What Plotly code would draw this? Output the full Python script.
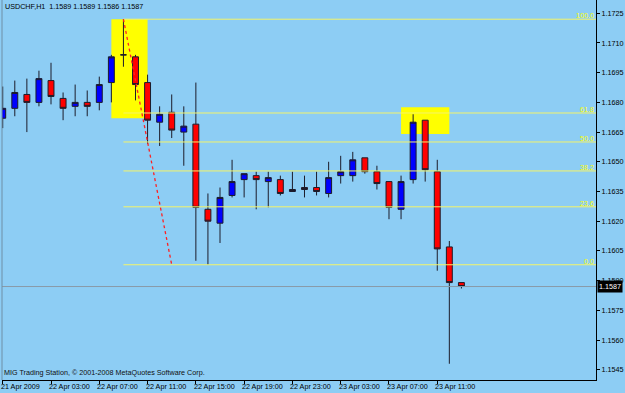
import plotly.graph_objects as go
import pandas as pd

# ---------------- data ----------------
times = pd.date_range("2009-04-21 23:00", periods=39, freq="h")
opens = [1.1672, 1.1677, 1.1684, 1.1680, 1.1691, 1.1682, 1.1678, 1.1680, 1.1680, 1.1690,
         1.1704, 1.1703, 1.1690, 1.1670, 1.1675, 1.1665, 1.1669, 1.1626, 1.1619, 1.1633,
         1.1641, 1.1643, 1.1640, 1.1641, 1.1635, 1.1637, 1.1637, 1.1634, 1.1643, 1.1643,
         1.1652, 1.1645, 1.1640, 1.1626, 1.1641, 1.1671, 1.1645, 1.1607, 1.1589]
highs = [1.1688, 1.1691, 1.1692, 1.1696, 1.1700, 1.1685, 1.1689, 1.1686, 1.1693, 1.1704,
         1.1722, 1.1704, 1.1694, 1.1678, 1.1684, 1.1678, 1.1690, 1.1634, 1.1637, 1.1651,
         1.1644, 1.1645, 1.1645, 1.1643, 1.1645, 1.1643, 1.1645, 1.1650, 1.1653, 1.1655,
         1.1652, 1.1648, 1.1640, 1.1643, 1.1674, 1.1671, 1.1651, 1.1610, 1.1589]
lows = [1.1667, 1.1673, 1.1665, 1.1678, 1.1679, 1.1671, 1.1673, 1.1673, 1.1676, 1.1680,
        1.1698, 1.1681, 1.1659, 1.1658, 1.1662, 1.1648, 1.1600, 1.1598, 1.1609, 1.1632,
        1.1632, 1.1626, 1.1627, 1.1633, 1.1635, 1.1632, 1.1633, 1.1632, 1.1639, 1.1640,
        1.1644, 1.1636, 1.1621, 1.1621, 1.1639, 1.1640, 1.1595, 1.1548, 1.1586]
closes = [1.1677, 1.1685, 1.1680, 1.1692, 1.1683, 1.1677, 1.1680, 1.1678, 1.1689, 1.1703,
          1.1704, 1.1689, 1.1671, 1.1674, 1.1666, 1.1668, 1.1627, 1.1620, 1.1632, 1.1640,
          1.1644, 1.1641, 1.1642, 1.1634, 1.1636, 1.1636, 1.1635, 1.1642, 1.1645, 1.1651,
          1.1645, 1.1639, 1.1627, 1.1640, 1.1670, 1.1646, 1.1606, 1.1589, 1.1587]

price_ticks = [1.1545, 1.1560, 1.1575, 1.1590, 1.1605, 1.1620, 1.1635, 1.1650,
               1.1665, 1.1680, 1.1695, 1.1710, 1.1725]
label_bars = [0, 4, 8, 12, 16, 20, 24, 28, 32, 36]

fib_high = 1.1722
fib_low = 1.1598
fib_start_bar = 10
fib_end_bar = 14
fib_levels = [0.0, 23.6, 38.2, 50.0, 61.8, 100.0]

rect_bars = [(9, 12), (33, 37)]
rect_prices = [(1.1672, 1.1722), (1.1664, 1.16775)]

title_text = "USDCHF,H1  1.1589 1.1589 1.1586 1.1587"
copyright_text = "MIG Trading Station, \u00a9 2001-2008 MetaQuotes Software Corp."

# ---------------- figure ----------------
BG = "#8dcdf4"
FONT = "Liberation Sans"
FS = 7.2
bars = list(range(len(times)))
x_max = 49.15

fig = go.Figure()

# yellow rectangles
for (b0, b1), (p0, p1) in zip(rect_bars, rect_prices):
    fig.add_shape(type="rect", xref="x", yref="y", x0=b0, x1=b1, y0=p0, y1=p1,
                  fillcolor="#ffff00", line=dict(width=0), layer="below")

# fibonacci levels
for lv in fib_levels:
    price = fib_low + lv / 100.0 * (fib_high - fib_low)
    fig.add_trace(go.Scatter(x=[fib_start_bar, x_max + 5], y=[price, price], mode="lines",
                             line=dict(color="#f4f46a", width=1), hoverinfo="skip",
                             showlegend=False, cliponaxis=True))
    fig.add_annotation(xref="paper", x=1, y=price, yref="y", text="%.1f" % lv,
                       showarrow=False, xanchor="right", yanchor="bottom",
                       font=dict(family=FONT, size=FS, color="#ffff00"),
                       borderpad=0, xshift=-1, yshift=-2)

# current price line
fig.add_trace(go.Scatter(x=[-5, x_max + 5], y=[closes[-1], closes[-1]], mode="lines",
                         line=dict(color="#8a9aa8", width=1), hoverinfo="skip",
                         showlegend=False))

# fib trend line (dotted red)
fig.add_trace(go.Scatter(x=[fib_start_bar, fib_end_bar], y=[fib_high, fib_low], mode="lines",
                         line=dict(color="#ff2020", width=1.3, dash="dot"),
                         hoverinfo="skip", showlegend=False))

# candles
fig.add_trace(go.Candlestick(
    x=bars, open=opens, high=highs, low=lows, close=closes,
    increasing=dict(fillcolor="#0000ff", line=dict(color="#1c1c2a", width=1)),
    decreasing=dict(fillcolor="#ff0000", line=dict(color="#1c1c2a", width=1)),
    whiskerwidth=0, showlegend=False, hoverinfo="skip"))

# texts
fig.add_annotation(xref="paper", yref="paper", x=0, y=1, text=title_text, showarrow=False,
                   xanchor="left", yanchor="top", xshift=2, yshift=-1,
                   font=dict(family=FONT, size=FS, color="#000000"), borderpad=0)
fig.add_annotation(xref="paper", yref="paper", x=0, y=0, text=copyright_text, showarrow=False,
                   xanchor="left", yanchor="bottom", xshift=1, yshift=2,
                   font=dict(family=FONT, size=FS, color="#101010"), borderpad=0)
fig.add_annotation(xref="paper", yref="y", x=1, y=closes[-1], text="%.4f" % closes[-1],
                   showarrow=False, xanchor="left", yanchor="middle", xshift=1,
                   bgcolor="#000000", font=dict(family=FONT, size=FS, color="#ffffff"),
                   borderpad=1)

# time labels, left-aligned at their tick (MetaTrader style)
def fmt_time(i):
    t = times[i]
    return t.strftime("%d %b %Y") if i == 0 else t.strftime("%d %b %H:%M")

for i in label_bars:
    fig.add_annotation(xref="x", yref="paper", x=i, y=0, text=fmt_time(i), showarrow=False,
                       xanchor="left", yanchor="top", xshift=-3, yshift=-1, borderpad=0,
                       font=dict(family=FONT, size=FS, color="#000000"))

# left frame line
fig.add_shape(type="line", xref="paper", yref="paper", x0=0, x1=0, y0=0, y1=1,
              line=dict(color="#6f8fa6", width=1))

fig.update_layout(
    width=625, height=393,
    margin=dict(l=2, r=29, t=0, b=13),
    paper_bgcolor=BG, plot_bgcolor=BG,
    showlegend=False,
    font=dict(family=FONT, size=FS, color="#000000"),
    xaxis=dict(range=[-0.06, x_max], tickvals=label_bars, showticklabels=False,
               ticks="outside", ticklen=3, tickcolor="#000000",
               showline=True, linecolor="#000000", linewidth=1,
               showgrid=False, zeroline=False, rangeslider=dict(visible=False),
               automargin=False),
    yaxis=dict(range=[1.15398, 1.17317], side="right", tickvals=price_ticks,
               ticktext=["%.4f" % p for p in price_ticks],
               ticks="outside", ticklen=3, tickcolor="#000000",
               showline=True, linecolor="#000000", linewidth=1,
               showgrid=False, zeroline=False, automargin=False,
               tickfont=dict(family=FONT, size=FS, color="#000000")),
)

fig.write_html("out.html")
